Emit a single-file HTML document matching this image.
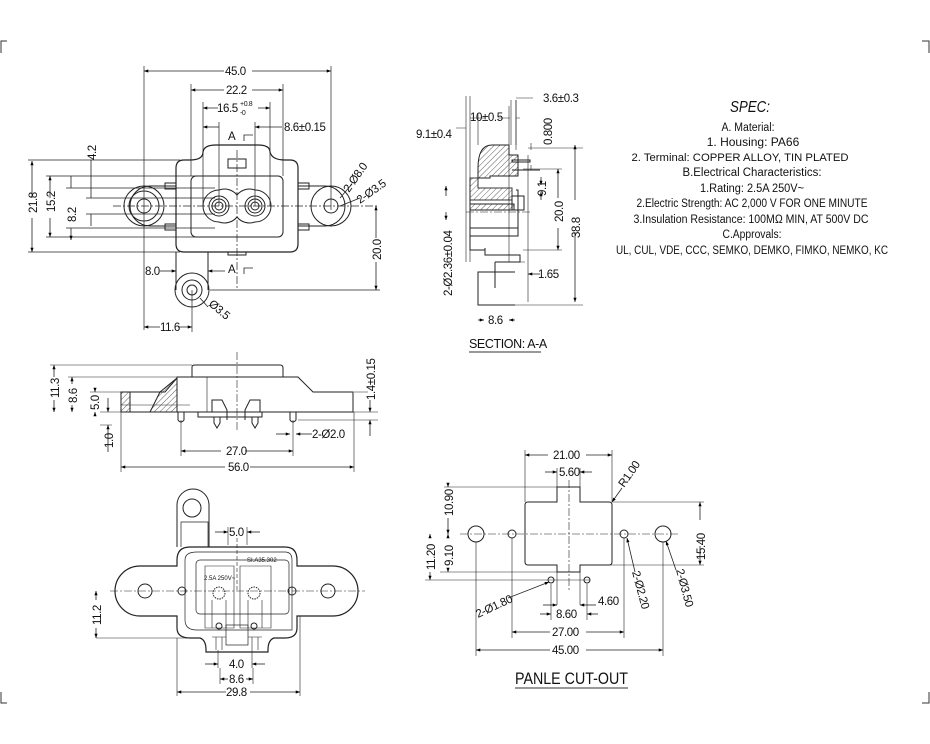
<!DOCTYPE html>
<html><head><meta charset="utf-8"><style>
html,body{margin:0;padding:0;background:#fff;}
svg{display:block;}
text{font-family:"Liberation Sans",sans-serif;fill:#111;}
.d{font-size:11.5px;letter-spacing:-0.4px;}
.s{font-size:11.5px;}
</style></head><body>
<svg width="930" height="744" viewBox="0 0 930 744" xmlns="http://www.w3.org/2000/svg">
<defs>
<marker id="a" viewBox="0 0 8 6" refX="8" refY="3" markerWidth="6" markerHeight="4" orient="auto-start-reverse"><path d="M0,0L8,3L0,6z" fill="#000"/></marker>
<pattern id="h" width="4" height="4" patternUnits="userSpaceOnUse" patternTransform="rotate(45)"><line x1="0" y1="0" x2="0" y2="4" stroke="#333" stroke-width="0.8"/></pattern>
</defs>
<g stroke="#333" stroke-width="1" fill="none">
<path d="M1,53V41H7"/><path d="M929,53V41H922"/><path d="M1,692V703H7"/><path d="M929,692V703H922"/>
</g>

<!-- TOP VIEW -->
<g stroke="#222" stroke-width="1" fill="none">
<path d="M144,66V330M331,66V210M191,84V176M283,84V176M203,102V206M270,102V206M219,122V206M255,122V206" stroke-width="0.7"/>
<path d="M28,160H180M46,176H200M66,188H215M86,198H215M86,214H215M66,228H215M46,237H200M28,252H180" stroke-width="0.7"/>
<path d="M210,290H380M192,290V332" stroke-width="0.7"/>
<path d="M113,206H378M237,150V290" stroke-dasharray="8,2,2,2" stroke-width="0.7"/>
<path d="M216,145H258Q270,145 270,152Q272,160 285,160H290Q298,160 298,168V244Q298,252 290,252H184Q176,252 176,244V168Q176,160 184,160H190Q203,160 203,152Q204,145 216,145Z" stroke-width="1.2"/>
<rect x="191" y="176" width="92" height="61" rx="5"/>
<rect x="228" y="159" width="18" height="9"/>
<path d="M176,186H150A20,20 0 0 0 150,226H176" />
<circle cx="144" cy="206" r="20"/><circle cx="144" cy="206" r="15"/><circle cx="144" cy="206" r="7"/>
<path d="M298,186H325A20,20 0 0 1 325,226H298"/>
<circle cx="331" cy="206" r="20"/><circle cx="331" cy="206" r="7"/>
<rect x="165" y="183" width="11" height="6"/><rect x="165" y="224" width="11" height="6"/>
<rect x="298" y="183" width="11" height="6"/><rect x="298" y="224" width="11" height="6"/>
<path d="M219,190A16,16 0 0 1 237,195A16,16 0 0 1 255,190A16,16 0 0 1 255,222A16,16 0 0 1 237,217A16,16 0 0 1 219,222A16,16 0 0 1 219,190Z"/>
<circle cx="219" cy="206" r="10"/><circle cx="219" cy="206" r="7"/><circle cx="219" cy="206" r="4"/>
<circle cx="255" cy="206" r="10"/><circle cx="255" cy="206" r="7"/><circle cx="255" cy="206" r="4"/>
<path d="M176,252V290M208,252V290"/>
<circle cx="192" cy="290" r="17"/><circle cx="192" cy="290" r="10"/><circle cx="192" cy="290" r="5"/>
<rect x="228" y="252" width="18" height="3"/>
<g stroke-width="0.8" marker-start="url(#a)" marker-end="url(#a)">
<path d="M144,71H224M252,71H331"/>
<path d="M191,90H224M252,90H283"/>
<path d="M203,108H218M258,108H270"/>
<path d="M32,161V198M32,218V252"/>
<path d="M50,176V198M50,218V237"/>
<path d="M376,206V238M376,262V290"/>
<path d="M144,327H160M178,327H192"/>
</g>
<path d="M203,127H219" stroke-width="0.8" marker-start="url(#a)"/><path d="M255,127H282" stroke-width="0.8" marker-start="url(#a)"/>
<path d="M71,176V188M71,228V240" stroke-width="0.8" marker-end="url(#a)"/>
<path d="M91,160V198M91,214V226" stroke-width="0.8"/>
<path d="M160,271H176" marker-end="url(#a)" stroke-width="0.8"/><path d="M225,271H208" marker-end="url(#a)" stroke-width="0.8"/>
<path d="M253,135H244V141M253,268H244V274" stroke-width="0.8"/>
<path d="M340,198L352,184M340,206L360,198" stroke-width="0.8"/>
<path d="M200,298L208,307" stroke-width="0.8"/>
</g>
<g class="d">
<text x="225" y="75">45.0</text>
<text x="226" y="94">22.2</text>
<text x="217" y="112">16.5</text><text x="240" y="106" style="font-size:7px">+0.8</text><text x="240" y="115" style="font-size:7px">-0</text>
<text x="284" y="131">8.6±0.15</text>
<text x="228" y="140">A</text><text x="228" y="273">A</text>
<text x="145" y="275">8.0</text>
<text x="160" y="331">11.6</text>
<text x="0" y="0" transform="translate(37,213) rotate(-90)">21.8</text>
<text x="0" y="0" transform="translate(55,212) rotate(-90)">15.2</text>
<text x="0" y="0" transform="translate(76,222) rotate(-90)">8.2</text>
<text x="0" y="0" transform="translate(96,160) rotate(-90)">4.2</text>
<text x="0" y="0" transform="translate(381,260) rotate(-90)">20.0</text>
<text x="0" y="0" transform="translate(349,193) rotate(-55)">2-Ø8.0</text>
<text x="0" y="0" transform="translate(360,204) rotate(-35)">2-Ø3.5</text>
<text x="0" y="0" transform="translate(208,305) rotate(40)">Ø3.5</text>
</g>

<!-- SECTION A-A -->
<g stroke="#222" stroke-width="1" fill="none">
<path d="M466,96V262M470,96V262M478,114V145M511,100V145M516,100V145M509,106V262M528,155V302" stroke-width="0.6"/>
<path d="M492,145H509V155H518V176H490V178H478V168Q478,145 492,145Z" fill="url(#h)"/>
<path d="M470,178H478V188H512V200H470Z" fill="url(#h)" opacity="0.9"/>
<path d="M470,204H514V210H470Z" fill="url(#h)"/>
<path d="M470,178V236H518V190H516M470,228H518M470,236V250H485M485,248V255H520V262H495"/>
<path d="M515,272H478V305H515"/>
<path d="M495,262V288"/>
<path d="M512,160H530V162H512ZM512,170H540" />
<path d="M512,196H524V210H512Z"/>
<path d="M466,128H456M470,118H485M510,118H498M516,118H520M516,98H533M516,100V150M528,148H583M523,169H562M523,250H562M515,305H583M520,262H525" stroke-width="0.6"/>
<path d="M531,150V143M531,165V170" stroke-width="0.6"/>
<g stroke-width="0.8" marker-end="url(#a)">
<path d="M575,200V145"/><path d="M575,232V302"/>
<path d="M558,198V169"/><path d="M558,228V250"/>
<path d="M541,177V185"/><path d="M541,200V192"/>
<path d="M446,196V186"/><path d="M446,212V220"/>
<path d="M478,320H484"/><path d="M515,320H509"/>
<path d="M540,274H528"/>
</g>
</g>
<path d="M466,212H530" stroke="#222" stroke-dasharray="8,2,2,2" stroke-width="0.6"/>
<g class="d">
<text x="543" y="102">3.6±0.3</text>
<text x="470" y="121">10±0.5</text>
<text x="416" y="138">9.1±0.4</text>
<text x="0" y="0" transform="translate(552,145) rotate(-90)">0.800</text>
<text x="0" y="0" transform="translate(546,196) rotate(-90)">9.1</text>
<text x="0" y="0" transform="translate(563,222) rotate(-90)">20.0</text>
<text x="0" y="0" transform="translate(580,238) rotate(-90)">38.8</text>
<text x="0" y="0" transform="translate(452,296) rotate(-90)">2-Ø2.36±0.04</text>
<text x="538" y="278">1.65</text>
<text x="488" y="324">8.6</text>
<text x="469" y="348" style="font-size:12.5px">SECTION: A-A</text>
</g>
<line x1="469" y1="352" x2="541" y2="352" stroke="#333" stroke-width="1"/>

<!-- SPEC -->
<g text-anchor="middle">
<text x="750" y="112" style="font-size:16px;font-style:italic" textLength="40" lengthAdjust="spacingAndGlyphs">SPEC:</text>
<text class="s" x="748" y="131" textLength="53" lengthAdjust="spacingAndGlyphs">A. Material:</text>
<text x="753" y="146" style="font-family:'Liberation Sans',sans-serif;font-size:12px">1. Housing: PA66</text>
<text x="740" y="161" style="font-family:'Liberation Sans',sans-serif;font-size:11.3px">2. Terminal: COPPER ALLOY, TIN PLATED</text>
<text class="s" x="752" y="176" textLength="139" lengthAdjust="spacingAndGlyphs">B.Electrical Characteristics:</text>
<text class="s" x="752" y="192" textLength="104" lengthAdjust="spacingAndGlyphs">1.Rating: 2.5A 250V~</text>
<text class="s" x="752" y="207" textLength="231" lengthAdjust="spacingAndGlyphs">2.Electric Strength: AC 2,000 V FOR ONE MINUTE</text>
<text class="s" x="751" y="223" textLength="235" lengthAdjust="spacingAndGlyphs">3.Insulation Resistance: 100MΩ MIN, AT 500V DC</text>
<text class="s" x="752" y="238" textLength="59" lengthAdjust="spacingAndGlyphs">C.Approvals:</text>
<text class="s" x="752" y="254" textLength="272" lengthAdjust="spacingAndGlyphs">UL, CUL, VDE, CCC, SEMKO, DEMKO, FIMKO, NEMKO, KC</text>
</g>

<!-- SIDE VIEW -->
<g stroke="#222" stroke-width="1" fill="none">
<path d="M192,377V367Q192,365 195,365H280Q283,365 283,368V377"/>
<path d="M177,412V377H298L313,392H353V412H177"/>
<path d="M207,377V412" stroke-width="0.6"/>
<path d="M121,392H165L177,378V412H121Z"/>
<path d="M121,392H130V412H121Z" fill="url(#h)"/>
<path d="M160,392L177,378V412H150Z" fill="url(#h)"/>
<path d="M121,405H190" stroke-width="0.6"/>
<path d="M178,412V420Q181,424 184,420V412M290,412V420Q293,424 296,420V412"/>
<path d="M198,412V417H262V412M212,412V400H222L227,410V420M260,412V400H250L245,410V420"/>
<path d="M214,417V423L217,428L220,423V417M252,417V423L255,428L258,423V417"/>
<path d="M237,352V430" stroke-dasharray="8,2,2,2" stroke-width="0.6"/>
<path d="M50,365H192M68,377H177M90,392H121M100,412H121M100,425H112M181,420V456M293,420V456M121,412V472M354,412V472M298,412H378M298,420H378M354,392H368" stroke-width="0.6"/>
<g stroke-width="0.8" marker-end="url(#a)">
<path d="M54,377V365"/><path d="M54,400V412"/>
<path d="M72,384V377"/><path d="M72,405V412"/>
<path d="M95,388V392"/><path d="M95,416V412"/>
<path d="M108,398V412"/><path d="M108,452V425"/>
<path d="M370,400V412"/><path d="M370,436V420"/>
<path d="M221,451H181"/><path d="M245,451H293"/>
<path d="M225,467H121"/><path d="M250,467H354"/>
<path d="M276,434H290"/><path d="M312,434H296"/>
</g>
</g>
<g class="d">
<text x="0" y="0" transform="translate(59,398) rotate(-90)">11.3</text>
<text x="0" y="0" transform="translate(77,403) rotate(-90)">8.6</text>
<text x="0" y="0" transform="translate(99,410) rotate(-90)">5.0</text>
<text x="0" y="0" transform="translate(113,448) rotate(-90)">1.0</text>
<text x="0" y="0" transform="translate(375,400) rotate(-90)">1.4±0.15</text>
<text x="226" y="455">27.0</text>
<text x="228" y="471">56.0</text>
<text x="312" y="438">2-Ø2.0</text>
</g>

<!-- BOTTOM VIEW -->
<g stroke="#222" stroke-width="1" fill="none">
<path d="M177,547V505A16,16 0 0 1 209,505V547"/>
<circle cx="192" cy="508" r="9"/>
<path d="M181,547V522H208V547" stroke-width="0.7"/>
<path d="M190,547Q177,547 177,560V566H140A25,25 0 0 0 140,616H177V628Q177,638 190,638H200Q206,640 206,650V652H268V650Q268,640 274,638H285Q297,638 297,628V616H333A25,25 0 0 0 333,566H297V560Q297,547 285,547Z" stroke-width="1.2"/>
<path d="M197,552H285Q292,552 292,560V630H197Q185,630 185,620V560Q185,552 197,552Z" stroke-width="0.7"/>
<rect x="196" y="560" width="93" height="54" rx="4" stroke-width="0.7"/>
<path d="M205,566H234V628H205ZM240,566H271V628H240Z" stroke-width="0.6"/>
<circle cx="145" cy="591" r="7"/><circle cx="328" cy="591" r="7"/>
<circle cx="182" cy="591" r="4"/><circle cx="292" cy="591" r="4"/>
<circle cx="219" cy="593" r="6" stroke-dasharray="1.5,1"/><circle cx="254" cy="593" r="6" stroke-dasharray="1.5,1"/>
<path d="M212,600V628M226,600V628M248,600V628M262,600V628" stroke-width="0.6"/>
<circle cx="219" cy="626" r="3"/><circle cx="254" cy="626" r="3"/>
<rect x="226" y="625" width="22" height="20" stroke-width="0.7"/>
<path d="M212,637H226M248,637H262M216,637V650M222,637V650M252,637V650M258,637V650" stroke-width="0.6"/>
<path d="M110,591H365" stroke-dasharray="8,2,2,2" stroke-width="0.6"/>
<path d="M237,538V590" stroke-dasharray="4,2" stroke-width="0.6"/>
<path d="M228,527V545M247,527V545M218,650V668M252,650V668M220,668V684M253,668V684M177,638V696M300,616V696M96,638H200" stroke-width="0.6"/>
<g stroke-width="0.8" marker-end="url(#a)">
<path d="M215,532H228"/><path d="M260,532H247"/>
<path d="M205,664H218"/><path d="M265,664H252"/>
<path d="M228,679H220"/><path d="M246,679H253"/>
<path d="M226,692H177"/><path d="M250,692H300"/>
<path d="M96,600V591"/><path d="M96,628V638"/>
</g>
</g>
<g style="font-size:6px" fill="#333"><text x="204" y="580">2.5A 250V~</text><text x="247" y="562">SI.A35.302</text></g>
<g class="d">
<text x="229" y="536">5.0</text>
<text x="229" y="668">4.0</text>
<text x="229" y="683">8.6</text>
<text x="226" y="696">29.8</text>
<text x="0" y="0" transform="translate(101,625) rotate(-90)">11.2</text>
</g>

<!-- PANEL CUT-OUT -->
<g stroke="#222" stroke-width="1" fill="none">
<path d="M528,502H557V487H580V502H609Q612,502 612,505V562Q612,565 609,565H580V572H557V565H528Q525,565 525,562V505Q525,502 528,502Z"/>
<circle cx="476" cy="534" r="8"/><circle cx="663" cy="534" r="8"/>
<circle cx="512" cy="534" r="4"/><circle cx="624" cy="534" r="4"/>
<circle cx="551" cy="580" r="3"/><circle cx="587" cy="580" r="3"/>
<path d="M460,534H680" stroke-dasharray="8,2,2,2" stroke-width="0.6"/>
<path d="M569,480V592" stroke-dasharray="8,2,2,2" stroke-width="0.6"/>
<path d="M525,450V502M612,450V502M557,468V487M580,468V487M444,487H557M612,502H704M440,572H557M580,565H704M425,580H590M476,542V656M663,542V656M512,538V638M624,538V638M551,584V620M587,584V620M557,572V605M580,572V605" stroke-width="0.6"/>
<g stroke-width="0.8" marker-end="url(#a)">
<path d="M548,455H525"/><path d="M586,455H612"/>
<path d="M545,472H557"/><path d="M592,472H580"/>
<path d="M700,520V502"/><path d="M700,546V565"/>
<path d="M448,486V487"/><path d="M448,518V534"/>
<path d="M448,537V534"/><path d="M448,568V572"/>
<path d="M430,538V534"/><path d="M430,572V580"/>
<path d="M543,605H557"/><path d="M596,605H580"/>
<path d="M540,614H551"/><path d="M598,614H587"/>
<path d="M550,632H512"/><path d="M586,632H624"/>
<path d="M550,650H476"/><path d="M586,650H663"/>
<path d="M622,488L612,502"/>
<path d="M508,598L549,582"/>
<path d="M635,572L627,538"/>
<path d="M676,570L666,541"/>
</g>
</g>
<g class="d">
<text x="553" y="459">21.00</text>
<text x="559" y="476">5.60</text>
<text x="0" y="0" transform="translate(624,488) rotate(-55)">R1.00</text>
<text x="0" y="0" transform="translate(705,560) rotate(-90)">15.40</text>
<text x="0" y="0" transform="translate(453,516) rotate(-90)">10.90</text>
<text x="0" y="0" transform="translate(453,566) rotate(-90)">9.10</text>
<text x="0" y="0" transform="translate(435,570) rotate(-90)">11.20</text>
<text x="0" y="0" transform="translate(478,618) rotate(-25)">2-Ø1.80</text>
<text x="0" y="0" transform="translate(632,572) rotate(75)">2-Ø2.20</text>
<text x="0" y="0" transform="translate(676,570) rotate(75)">2-Ø3.50</text>
<text x="598" y="605">4.60</text>
<text x="556" y="618">8.60</text>
<text x="552" y="636">27.00</text>
<text x="552" y="654">45.00</text>
</g>
<text x="515" y="684" style="font-size:17px" textLength="113" lengthAdjust="spacingAndGlyphs">PANLE CUT-OUT</text>
<line x1="515" y1="688" x2="628" y2="688" stroke="#333" stroke-width="1"/>
</svg>
</body></html>
